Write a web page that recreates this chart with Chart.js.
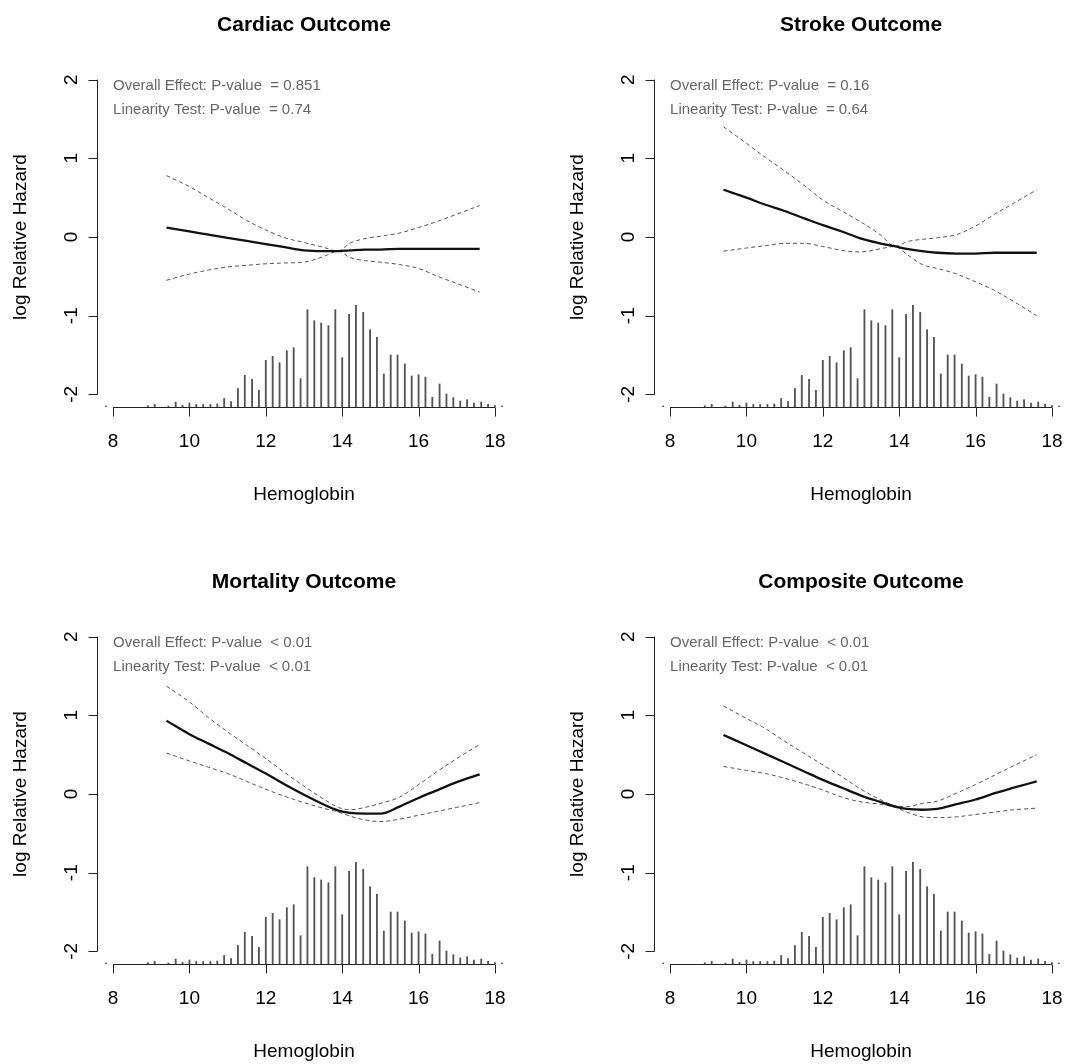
<!DOCTYPE html>
<html>
<head>
<meta charset="utf-8">
<script src="https://cdn.jsdelivr.net/npm/chart.js@4.4.1/dist/chart.umd.min.js"></script>
<style>
  html, body { margin: 0; padding: 0; background: #fff; }
  #wrap { position: relative; width: 1075px; height: 1064px; overflow: hidden; }
  .panel { position: absolute; width: 518px; height: 507px; }
</style>
</head>
<body>
<div id="wrap">
  <div class="panel" style="left:0;top:0"><canvas id="cardiac" width="518" height="507"></canvas></div>
  <div class="panel" style="left:557px;top:0"><canvas id="stroke" width="518" height="507"></canvas></div>
  <div class="panel" style="left:0;top:557px"><canvas id="mortality" width="518" height="507"></canvas></div>
  <div class="panel" style="left:557px;top:557px"><canvas id="composite" width="518" height="507"></canvas></div>
</div>
<script>
// hemoglobin grid of the spline fits
const hgb = [9.4, 10, 10.5, 11, 11.5, 12, 12.5, 13, 13.5, 13.9, 14.2, 14.6, 15, 15.5, 16, 16.5, 17, 17.6];

const cardiacFit   = [0.12, 0.07, 0.03, -0.01, -0.05, -0.09, -0.13, -0.17, -0.18, -0.18, -0.17, -0.16, -0.16, -0.15, -0.15, -0.15, -0.15, -0.15];
const cardiacUpper = [0.78, 0.64, 0.50, 0.36, 0.21, 0.09, -0.01, -0.07, -0.13, -0.18, -0.08, -0.02, 0.01, 0.05, 0.12, 0.20, 0.29, 0.40];
const cardiacLower = [-0.55, -0.47, -0.42, -0.38, -0.36, -0.34, -0.33, -0.32, -0.25, -0.18, -0.26, -0.30, -0.32, -0.35, -0.40, -0.50, -0.59, -0.70];

const strokeFit   = [0.60, 0.50, 0.41, 0.33, 0.24, 0.15, 0.07, -0.02, -0.08, -0.12, -0.15, -0.18, -0.20, -0.21, -0.21, -0.20, -0.20, -0.20];
const strokeUpper = [1.40, 1.19, 1.01, 0.84, 0.66, 0.47, 0.33, 0.19, 0.03, -0.12, -0.06, -0.03, -0.01, 0.03, 0.14, 0.29, 0.43, 0.60];
const strokeLower = [-0.18, -0.14, -0.11, -0.08, -0.08, -0.12, -0.17, -0.19, -0.15, -0.12, -0.22, -0.35, -0.40, -0.47, -0.57, -0.68, -0.82, -1.00];

const mortalityFit   = [0.93, 0.76, 0.64, 0.52, 0.39, 0.26, 0.12, -0.01, -0.13, -0.21, -0.24, -0.25, -0.25, -0.16, -0.05, 0.05, 0.15, 0.25];
const mortalityUpper = [1.37, 1.17, 0.97, 0.79, 0.62, 0.45, 0.27, 0.10, -0.06, -0.17, -0.20, -0.17, -0.12, -0.04, 0.12, 0.29, 0.45, 0.63];
const mortalityLower = [0.52, 0.42, 0.34, 0.26, 0.16, 0.06, -0.03, -0.11, -0.18, -0.23, -0.28, -0.33, -0.35, -0.32, -0.27, -0.22, -0.17, -0.11];

const compositeFit   = [0.75, 0.62, 0.51, 0.40, 0.29, 0.18, 0.08, -0.02, -0.10, -0.16, -0.19, -0.20, -0.19, -0.13, -0.07, 0.01, 0.08, 0.16];
const compositeUpper = [1.12, 0.96, 0.83, 0.67, 0.52, 0.37, 0.22, 0.06, -0.07, -0.15, -0.16, -0.12, -0.09, 0.01, 0.12, 0.24, 0.36, 0.50];
const compositeLower = [0.35, 0.30, 0.26, 0.20, 0.13, 0.05, -0.04, -0.10, -0.13, -0.17, -0.23, -0.29, -0.30, -0.29, -0.26, -0.23, -0.20, -0.18];

// spike histogram of hemoglobin (relative frequency)
const histX = [7.82, 8.91, 9.09, 9.45, 9.64, 9.82, 10.00, 10.18, 10.36, 10.55, 10.73, 10.91, 11.09, 11.27, 11.45, 11.64, 11.82,
  12.00, 12.18, 12.36, 12.55, 12.73, 12.91, 13.09, 13.27, 13.45, 13.64, 13.82, 14.00, 14.18, 14.36, 14.55, 14.73, 14.91,
  15.09, 15.27, 15.45, 15.64, 15.82, 16.00, 16.18, 16.36, 16.55, 16.73, 16.91, 17.09, 17.27, 17.45, 17.64, 17.82, 18.00, 18.18];
const histFreq = [1, 1.3, 2.7, 1, 5, 1.7, 4, 2.5, 2.5, 2.5, 3, 8.5, 5.5, 18.5, 31.7, 27.7, 16.7,
  46.7, 50.7, 44.3, 56.3, 59.3, 28.3, 97.3, 86.3, 84, 81.3, 97.3, 49.3, 92.7, 101.7, 94.7, 77.3, 69.7,
  33, 52, 52, 43, 31, 32.3, 30, 9.7, 23, 13, 9.3, 6, 7.3, 4, 5, 2.7, 1.5, 1];

const xTicks = [8, 10, 12, 14, 16, 18];
const yTicks = [-2, -1, 0, 1, 2];

const titles = ['Cardiac Outcome', 'Stroke Outcome', 'Mortality Outcome', 'Composite Outcome'];
const overallP = ['= 0.851', '= 0.16', '< 0.01', '< 0.01'];
const linearityP = ['= 0.74', '= 0.64', '< 0.01', '< 0.01'];

const FONT = '"Liberation Sans", Arial, Helvetica, sans-serif';

// R base-graphics style axes, titles and annotation
const rStyle = {
    id: 'rStyle',
    afterDraw(chart, args, opts) {
        const { ctx, chartArea: a } = chart;
        const x = chart.scales.x, y = chart.scales.y;
        ctx.save();
        ctx.strokeStyle = '#222';
        ctx.fillStyle = '#000';
        ctx.lineWidth = 1;

        // x axis
        const xb = Math.round(a.bottom) + 0.5;
        ctx.beginPath();
        ctx.moveTo(x.getPixelForValue(xTicks[0]), xb);
        ctx.lineTo(x.getPixelForValue(xTicks[xTicks.length - 1]), xb);
        xTicks.forEach(v => {
            const px = Math.round(x.getPixelForValue(v)) + 0.5;
            ctx.moveTo(px, xb);
            ctx.lineTo(px, xb + 9);
        });
        // y axis
        const yl = Math.round(a.left) + 0.5;
        ctx.moveTo(yl, y.getPixelForValue(yTicks[0]));
        ctx.lineTo(yl, y.getPixelForValue(yTicks[yTicks.length - 1]));
        yTicks.forEach(v => {
            const py = Math.round(y.getPixelForValue(v)) + 0.5;
            ctx.moveTo(yl, py);
            ctx.lineTo(yl - 9, py);
        });
        ctx.stroke();

        ctx.font = '19px ' + FONT;
        ctx.textAlign = 'center';
        ctx.textBaseline = 'alphabetic';
        xTicks.forEach(v => ctx.fillText(String(v), x.getPixelForValue(v), a.bottom + 40));
        ctx.fillText('Hemoglobin', (a.left + a.right) / 2, a.bottom + 93);

        ctx.textBaseline = 'middle';
        yTicks.forEach(v => {
            ctx.save();
            ctx.translate(a.left - 25, y.getPixelForValue(v));
            ctx.rotate(-Math.PI / 2);
            ctx.fillText(String(v), 0, 0);
            ctx.restore();
        });
        ctx.save();
        ctx.translate(21, (a.top + a.bottom) / 2);
        ctx.rotate(-Math.PI / 2);
        ctx.fillText('log Relative Hazard', 0, 0);
        ctx.restore();

        // title
        ctx.textBaseline = 'alphabetic';
        ctx.font = 'bold 21px ' + FONT;
        ctx.fillText(opts.title, (a.left + a.right) / 2, 31);

        // p-values
        ctx.font = '15px ' + FONT;
        ctx.fillStyle = '#666';
        ctx.textAlign = 'left';
        const tx = x.getPixelForValue(8);
        ctx.fillText('Overall Effect: P-value  ' + opts.overall, tx, a.top + 23);
        ctx.fillText('Linearity Test: P-value  ' + opts.linearity, tx, a.top + 46.5);
        ctx.restore();
    }
};

function pts(ys) {
    return hgb.map((h, i) => ({ x: h, y: ys[i] }));
}

function makePanel(id, idx, fit, upper, lower) {
    const ctx = document.getElementById(id).getContext('2d');
    return new Chart(ctx, {
        type: 'line',
        data: {
            datasets: [{
                data: pts(fit),
                borderColor: '#111',
                borderWidth: 2.3,
                pointRadius: 0,
                cubicInterpolationMode: 'monotone'
            }, {
                data: pts(upper),
                borderColor: '#555',
                borderWidth: 1,
                borderDash: [4, 3],
                pointRadius: 0,
                cubicInterpolationMode: 'monotone'
            }, {
                data: pts(lower),
                borderColor: '#555',
                borderWidth: 1,
                borderDash: [4, 3],
                pointRadius: 0,
                cubicInterpolationMode: 'monotone'
            }, {
                type: 'bar',
                data: histX.map((h, i) => ({ x: h, y: histFreq[i] })),
                yAxisID: 'yh',
                backgroundColor: '#555',
                barThickness: 1.2,
                borderWidth: 0
            }]
        },
        options: {
            responsive: false,
            animation: false,
            events: [],
            layout: { padding: { left: 97, right: 7, top: 67, bottom: 100 } },
            plugins: {
                legend: { display: false },
                tooltip: { enabled: false },
                rStyle: { title: titles[idx], overall: overallP[idx], linearity: linearityP[idx] }
            },
            scales: {
                x: { type: 'linear', min: 7.58, max: 18.42, offset: false, display: false },
                y: { type: 'linear', min: -2.16, max: 2.16, display: false },
                yh: { type: 'linear', min: 0, max: 340, display: false }
            }
        },
        plugins: [rStyle]
    });
}

makePanel('cardiac', 0, cardiacFit, cardiacUpper, cardiacLower);
makePanel('stroke', 1, strokeFit, strokeUpper, strokeLower);
makePanel('mortality', 2, mortalityFit, mortalityUpper, mortalityLower);
makePanel('composite', 3, compositeFit, compositeUpper, compositeLower);
</script>
</body>
</html>
